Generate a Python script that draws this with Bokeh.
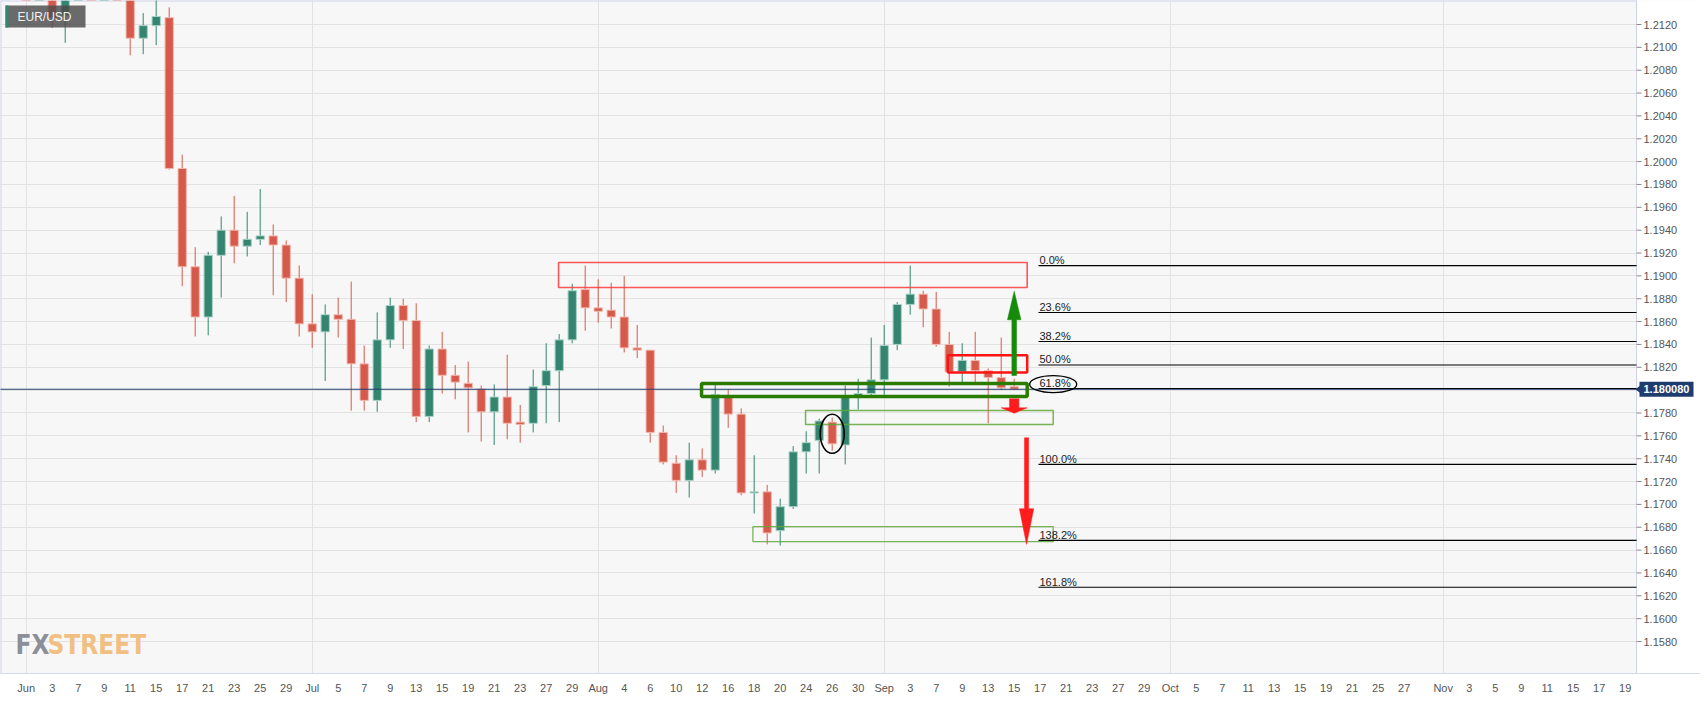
from bokeh.plotting import figure
from bokeh.models import Range1d, FixedTicker
from bokeh.core.properties import value
from bokeh.embed import file_html
from bokeh.resources import INLINE

# ---------------- data (EUR/USD daily) ----------------
days = ["Jun 1", "Jun 2", "Jun 3", "Jun 4", "Jun 7", "Jun 8", "Jun 9", "Jun 10", "Jun 11",
        "Jun 14", "Jun 15", "Jun 16", "Jun 17", "Jun 18", "Jun 21", "Jun 22", "Jun 23", "Jun 24",
        "Jun 25", "Jun 28", "Jun 29", "Jun 30", "Jul 1", "Jul 2", "Jul 5", "Jul 6", "Jul 7",
        "Jul 8", "Jul 9", "Jul 12", "Jul 13", "Jul 14", "Jul 15", "Jul 16", "Jul 19", "Jul 20",
        "Jul 21", "Jul 22", "Jul 23", "Jul 26", "Jul 27", "Jul 28", "Jul 29", "Jul 30", "Aug 2",
        "Aug 3", "Aug 4", "Aug 5", "Aug 6", "Aug 9", "Aug 10", "Aug 11", "Aug 12", "Aug 13",
        "Aug 16", "Aug 17", "Aug 18", "Aug 19", "Aug 20", "Aug 23", "Aug 24", "Aug 25", "Aug 26",
        "Aug 27", "Aug 30", "Aug 31", "Sep 1", "Sep 2", "Sep 3", "Sep 6", "Sep 7", "Sep 8",
        "Sep 9", "Sep 10", "Sep 13", "Sep 14", "Sep 15"]

opens = [1.2225, 1.2212, 1.2213, 1.2128, 1.2166, 1.2191, 1.2171, 1.2178, 1.2175,
         1.2108, 1.2119, 1.2126, 1.1994, 1.1908, 1.1864, 1.1918, 1.1940, 1.1926,
         1.1932, 1.1935, 1.1927, 1.1898, 1.1858, 1.1851, 1.1866, 1.1862, 1.1823,
         1.1791, 1.1844, 1.1874, 1.1861, 1.1777, 1.1836, 1.1813, 1.1806, 1.1801,
         1.1781, 1.1794, 1.1772, 1.1771, 1.1804, 1.1817, 1.1844, 1.1888, 1.1872,
         1.1870, 1.1864, 1.1837, 1.1835, 1.1763, 1.1736, 1.1721, 1.1739, 1.1730,
         1.1795, 1.1779, 1.1710, 1.1711, 1.1677, 1.1698, 1.1746, 1.1756, 1.1772,
         1.1752, 1.1795, 1.1797, 1.1809, 1.1840, 1.1875, 1.1884, 1.1871, 1.1840,
         1.1816, 1.1826, 1.1817, 1.1811, 1.1803]

highs = [1.2254, 1.2226, 1.2214, 1.2185, 1.2195, 1.2199, 1.2191, 1.2218, 1.2180,
         1.2130, 1.2144, 1.2135, 1.2006, 1.1925, 1.1921, 1.1952, 1.1970, 1.1956,
         1.1976, 1.1945, 1.1931, 1.1909, 1.1884, 1.1875, 1.1881, 1.1895, 1.1839,
         1.1868, 1.1881, 1.1880, 1.1876, 1.1839, 1.1851, 1.1822, 1.1825, 1.1804,
         1.1805, 1.1831, 1.1787, 1.1818, 1.1841, 1.1849, 1.1893, 1.1909, 1.1897,
         1.1894, 1.1900, 1.1857, 1.1835, 1.1769, 1.1743, 1.1754, 1.1749, 1.1805,
         1.1801, 1.1784, 1.1743, 1.1717, 1.1705, 1.1751, 1.1764, 1.1775, 1.1776,
         1.1804, 1.1810, 1.1846, 1.1857, 1.1877, 1.1909, 1.1887, 1.1886, 1.1851,
         1.1841, 1.1851, 1.1819, 1.1846, 1.1810]

lows = [1.2203, 1.2164, 1.2117, 1.2104, 1.2152, 1.2144, 1.2157, 1.2144, 1.2093,
        1.2094, 1.2102, 1.1993, 1.1891, 1.1847, 1.1848, 1.1881, 1.1911, 1.1917,
        1.1927, 1.1883, 1.1877, 1.1847, 1.1837, 1.1808, 1.1846, 1.1782, 1.1782,
        1.1781, 1.1837, 1.1836, 1.1772, 1.1772, 1.1797, 1.1792, 1.1763, 1.1755,
        1.1752, 1.1757, 1.1754, 1.1763, 1.1771, 1.1772, 1.1841, 1.1852, 1.1859,
        1.1854, 1.1833, 1.1828, 1.1754, 1.1735, 1.1710, 1.1706, 1.1724, 1.1727,
        1.1767, 1.1708, 1.1692, 1.1665, 1.1664, 1.1696, 1.1727, 1.1727, 1.1747,
        1.1735, 1.1783, 1.1795, 1.1796, 1.1835, 1.1866, 1.1855, 1.1838, 1.1803,
        1.1806, 1.1805, 1.1771, 1.1800, 1.1800]

closes = [1.2212, 1.2213, 1.2126, 1.2166, 1.2191, 1.2171, 1.2178, 1.2175, 1.2108,
          1.2119, 1.2127, 1.1994, 1.1908, 1.1864, 1.1918, 1.1940, 1.1926, 1.1932,
          1.1935, 1.1927, 1.1898, 1.1858, 1.1851, 1.1866, 1.1862, 1.1823, 1.1791,
          1.1844, 1.1874, 1.1861, 1.1777, 1.1836, 1.1813, 1.1807, 1.1802, 1.1781,
          1.1794, 1.1771, 1.1770, 1.1803, 1.1817, 1.1844, 1.1887, 1.1872, 1.1869,
          1.1864, 1.1837, 1.1835, 1.1763, 1.1737, 1.1721, 1.1739, 1.1730, 1.1796,
          1.1779, 1.1710, 1.1711, 1.1675, 1.1698, 1.1746, 1.1754, 1.1773, 1.1753,
          1.1795, 1.1797, 1.1809, 1.1839, 1.1875, 1.1884, 1.1871, 1.1840, 1.1816,
          1.1826, 1.1817, 1.1811, 1.1802, 1.180080]

current_price = 1.180080
current_label = "1.180080"

# x-axis labels (trading-day index -> label)
tick_idx = [0, 2, 4, 6, 8, 10, 12, 14, 16, 18, 20,
            22, 24, 26, 28, 30, 32, 34, 36, 38, 40, 42,
            44, 46, 48, 50, 52, 54, 56, 58, 60, 62, 64,
            66, 68, 70, 72, 74, 76, 78, 80, 82, 84, 86,
            88, 90, 92, 94, 96, 98, 100, 102, 104, 106,
            109, 111, 113, 115, 117, 119, 121, 123]
tick_labels = ["Jun", "3", "7", "9", "11", "15", "17", "21", "23", "25", "29",
               "Jul", "5", "7", "9", "13", "15", "19", "21", "23", "27", "29",
               "Aug", "4", "6", "10", "12", "16", "18", "20", "24", "26", "30",
               "Sep", "3", "7", "9", "13", "15", "17", "21", "23", "27", "29",
               "Oct", "5", "7", "11", "13", "15", "19", "21", "25", "27",
               "Nov", "3", "5", "9", "11", "15", "17", "19"]
month_idx = [0, 22, 44, 66, 88, 109]

y_ticks = [1.1580, 1.1600, 1.1620, 1.1640, 1.1660, 1.1680, 1.1700, 1.1720, 1.1740,
           1.1760, 1.1780, 1.1800, 1.1820, 1.1840, 1.1860, 1.1880, 1.1900, 1.1920,
           1.1940, 1.1960, 1.1980, 1.2000, 1.2020, 1.2040, 1.2060, 1.2080, 1.2100, 1.2120]
y_tick_labels = ["%.4f" % v for v in y_ticks]

# Fibonacci retracement
fib_high = 1.1909
fib_low = 1.1735
fib_ratios = [0.0, 0.236, 0.382, 0.5, 0.618, 1.0, 1.382, 1.618]
fib_labels = ["0.0%", "23.6%", "38.2%", "50.0%", "61.8%", "100.0%", "138.2%", "161.8%"]

# ---------------- geometry helpers (pixels -> data) ----------------
PX_X = 13.0          # pixels per trading day
X0_PX = 25.7         # pixel of day index 0
PX_Y = 11426.0       # pixels per 1.0 of price
Y_REF_PX = 24.0      # pixel of 1.2120
FRAME_W, FRAME_H = 1700, 673


def dx(px):
    return (px - X0_PX) / PX_X


def dy(py):
    return 1.2120 - (py - Y_REF_PX) / PX_Y


x_edge = dx(1636)          # right edge of the price area
y_top, y_bot = dy(0), dy(FRAME_H)

p = figure(frame_width=FRAME_W, frame_height=FRAME_H,
           x_range=Range1d(dx(0), dx(FRAME_W)), y_range=Range1d(y_bot, y_top),
           y_axis_location=None, output_backend="svg", toolbar_location=None,
           min_border_left=0, min_border_top=0, min_border_right=0, min_border_bottom=22,
           background_fill_color="#f7f7f7", border_fill_color="white",
           outline_line_color=None)

p.xaxis.ticker = FixedTicker(ticks=tick_idx)
p.xaxis.major_label_overrides = {t: l for t, l in zip(tick_idx, tick_labels)}
p.xaxis.major_tick_line_color = None
p.xaxis.minor_tick_line_color = None
p.xaxis.axis_line_color = "#d5d9ec"
p.xaxis.major_label_standoff = 2
p.xaxis.major_label_text_font = "Liberation Sans"
p.xaxis.major_label_text_font_size = "11px"
p.xaxis.major_label_text_color = "#555555"

p.xgrid.ticker = FixedTicker(ticks=month_idx)
p.xgrid.grid_line_color = "#e2e2e2"
p.ygrid.ticker = FixedTicker(ticks=y_ticks)
p.ygrid.grid_line_color = "#e2e2e2"

# ---------------- price scale area on the right ----------------
p.quad(left=[x_edge], right=[dx(FRAME_W + 20)], bottom=[y_bot - 0.01], top=[y_top + 0.01],
       fill_color="white", line_color=None)
p.segment(x0=[x_edge], y0=[y_bot - 0.01], x1=[x_edge], y1=[y_top + 0.01], line_color="#cdd2e8", line_width=1)
p.segment(x0=[dx(-5)], y0=[y_top], x1=[x_edge], y1=[y_top], line_color="#cdd2e8", line_width=2)
p.segment(x0=[dx(0)], y0=[y_bot], x1=[dx(0)], y1=[y_top], line_color="#cdd2e8", line_width=2)
p.segment(x0=[x_edge] * len(y_ticks), y0=y_ticks, x1=[dx(1641)] * len(y_ticks), y1=y_ticks,
          line_color="#8a8a8a", line_width=1)
p.text(x=[dx(1643)] * len(y_ticks), y=y_ticks, text=y_tick_labels,
       text_font=value("Liberation Sans"), text_font_size=value("11px"), text_color="#555555",
       text_align="left", text_baseline="middle")

# ---------------- candles ----------------
x = list(range(len(days)))
up = [c >= o for o, c in zip(opens, closes)]
col = ["#33856f" if u else "#d65a4b" for u in up]
edge = ["#a9d2c7" if u else "#f2b9b0" for u in up]
tops = [max(o, c) for o, c in zip(opens, closes)]
bots = [min(o, c) for o, c in zip(opens, closes)]

p.segment(x0=x, y0=lows, x1=x, y1=highs, line_color=col, line_width=1)
p.vbar(x=x, width=0.64, top=tops, bottom=bots, fill_color=col, line_color=edge, line_width=1)

# current price line
p.segment(x0=[dx(-5)], y0=[current_price], x1=[x_edge], y1=[current_price],
          line_color="#1f3c6e", line_width=1.1)

# ---------------- zones ----------------
p.quad(left=[40.95], right=[77.0], bottom=[1.18898], top=[1.19117],
       fill_color=None, line_color="#ff3b3b", line_alpha=0.85, line_width=1.6)
p.quad(left=[51.95], right=[77.0], bottom=[1.17944], top=[1.18058],
       fill_color=None, line_color="#2a7c00", line_width=3.5)
p.quad(left=[59.95], right=[79.0], bottom=[1.17699], top=[1.17822],
       fill_color=None, line_color="#5fa83a", line_alpha=0.85, line_width=1.5)
p.quad(left=[55.9], right=[79.0], bottom=[1.16675], top=[1.16805],
       fill_color=None, line_color="#5fa83a", line_alpha=0.85, line_width=1.3)
p.quad(left=[70.9], right=[77.0], bottom=[1.18154], top=[1.18306],
       fill_color=None, line_color="#ff1414", line_width=2.5)

# ellipse around Aug 26 candle
p.ellipse(x=[62.0], y=[1.17618], width=[1.85], height=[0.00341],
          fill_color=None, line_color="black", line_width=1.6)


# ---------------- arrows ----------------
def arrow(c, y0, yb, yt, hs, hh):
    xs = [c - hs, c - hs, c - hh, c, c + hh, c + hs, c + hs]
    ys = [y0, yb, yb, yt, yb, yb, y0]
    return xs, ys


ax1, ay1 = arrow(76.0, 1.18128, 1.18616, 1.18866, 0.18, 0.52)
ax2, ay2 = arrow(76.0, 1.17924, 1.17845, 1.17798, 0.36, 1.0)
ax3, ay3 = arrow(76.95, 1.17583, 1.16962, 1.16650, 0.16, 0.55)
p.patches(xs=[ax1], ys=[ay1], fill_color="#168a0a", line_color="#168a0a", line_width=0.5)
p.patches(xs=[ax2, ax3], ys=[ay2, ay3], fill_color="#ff1c1c", line_color="#ff1c1c", line_width=0.5)

# ---------------- Fibonacci ----------------
fib_levels = [fib_high - r * (fib_high - fib_low) for r in fib_ratios]
fib_x0 = dx(1038)
n = len(fib_levels)
p.segment(x0=[fib_x0] * n, y0=fib_levels, x1=[x_edge] * n, y1=fib_levels,
          line_color="black", line_width=1.1)
p.text(x=[dx(1039)] * n, y=[v + 5.5 / PX_Y for v in fib_levels], text=fib_labels,
       text_font=value("Liberation Sans"), text_font_size=value("11px"), text_color="#222222",
       text_align="left", text_baseline="middle")
p.ellipse(x=[79.0], y=[1.18052], width=[3.62], height=[0.00149],
          fill_color=None, line_color="black", line_width=1.3)

# ---------------- symbol badge ----------------
p.quad(left=[dx(5)], right=[dx(85)], bottom=[dy(27)], top=[dy(5)],
       fill_color="#4a4a4a", fill_alpha=0.82, line_color=None)
p.quad(left=[dx(5)], right=[dx(8)], bottom=[dy(27)], top=[dy(5)],
       fill_color="#2f8a73", line_color=None)
p.text(x=[dx(17)], y=[dy(16)], text=["EUR/USD"], text_font=value("Liberation Sans"),
       text_font_size=value("12px"), text_color="#f2f2f2", text_align="left", text_baseline="middle")

# ---------------- watermark ----------------
wm_font = value("'Liberation Sans Narrow', 'DejaVu Sans Condensed', 'Roboto', sans-serif")
p.text(x=[dx(15)], y=[dy(644)], text=["FX"], text_font=wm_font, text_font_size=value("26px"),
       text_font_style="bold", text_color="#8c8f99", text_align="left", text_baseline="middle")
p.text(x=[dx(47)], y=[dy(644)], text=["STREET"], text_font=wm_font, text_font_size=value("26px"),
       text_font_style="bold", text_color="#f2bf82", text_align="left", text_baseline="middle")

# ---------------- current price badge ----------------
py = (Y_REF_PX + (1.2120 - current_price) * PX_Y)
p.quad(left=[dx(1639)], right=[dx(1693)], bottom=[dy(py + 7.5)], top=[dy(py - 7.5)],
       fill_color="#1f3c6e", line_color=None)
p.patches(xs=[[dx(1635), dx(1640), dx(1640)]], ys=[[current_price, dy(py - 4), dy(py + 4)]],
          fill_color="#1f3c6e", line_color=None)
p.text(x=[dx(1643)], y=[current_price], text=[current_label], text_font=value("Liberation Sans"),
       text_font_size=value("11px"), text_font_style="bold", text_color="white",
       text_align="left", text_baseline="middle")

open("out.html", "w").write(file_html(p, INLINE))
